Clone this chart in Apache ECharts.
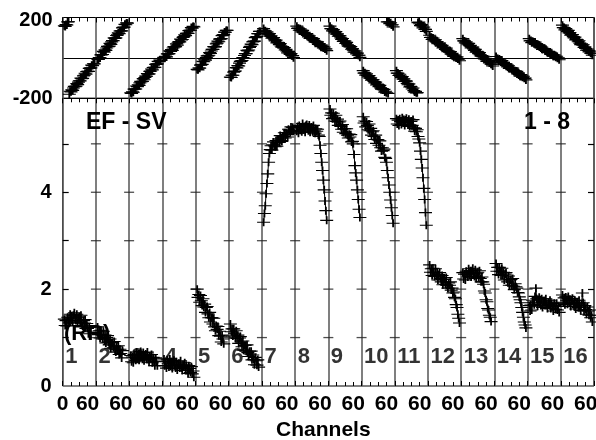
<!DOCTYPE html>
<html><head><meta charset="utf-8">
<script src="https://cdn.jsdelivr.net/npm/echarts@6/dist/echarts.min.js"></script>
<style>html,body{margin:0;padding:0;background:#fff}#c{width:596px;height:440px}</style>
</head><body><div id="c"></div>
<script>
// ---- data ----
const segWidth = 80;          // channel units per IF panel
const segLabels = ['1','2','3','4','5','6','7','8','9','10','11','12','13','14','15','16'];
const chans = [4,6,8,10,12,14,16,18,20,22,24,26,28,30,32,34,36,38,40,42,44,46,48,50,52,54,56,58,60,62,64,66,68,70,72,74,76];
const xTickLabelValues = [0,60,140,220,300,380,460,540,620,700,780,860,940,1020,1100,1180,1260];
const ampTicks = [1,2,3,4,5];
const ampLabels = [0,2,4];
const phaseLabels = [-200,200];

const ph1  = [159,156,165,163,178,179,-180,-165,-168,-158,-161,-149,-141,-142,-140,-127,-132,-120,-113,-114,-100,-103,-101,-89,-86,-76,-80,-68,-67,-67,-52,-50,-49,-36,-38,-29,-30];
const ph2  = [-5,-8,1,0,15,16,17,32,29,40,37,49,57,56,58,72,67,79,86,85,99,96,99,111,114,124,120,133,134,134,149,151,152,166,164,173,172];
const ph3  = [-173,-176,-168,-170,-155,-154,-154,-139,-142,-133,-136,-124,-116,-118,-116,-103,-108,-97,-90,-91,-78,-81,-79,-67,-65,-55,-59,-48,-47,-47,-32,-31,-30,-17,-19,-11,-12];
const ph4  = [3,-1,8,5,20,20,21,35,32,41,37,49,56,55,56,69,63,75,81,79,93,89,91,102,105,114,110,121,121,121,135,137,137,150,147,156,154];
const ph5  = [-57,-59,-50,-51,-36,-34,-32,-17,-19,-9,-11,2,10,10,13,26,22,34,42,42,56,54,56,69,73,83,80,93,94,95,110,113,115,128,127,136,136];
const ph6  = [-95,-97,-86,-86,-70,-67,-65,-48,-50,-38,-40,-26,-17,-16,-13,2,-2,12,21,21,37,35,39,52,57,68,66,79,82,83,100,103,106,120,120,131,131];
const ph7  = [145,133,134,123,129,121,114,120,108,109,98,101,100,90,84,88,74,77,76,66,71,59,53,56,50,51,39,42,34,25,32,25,17,21,11,11,1];
const ph8  = [157,146,147,137,144,136,129,136,125,127,116,120,120,111,104,109,96,100,99,90,96,85,79,82,77,79,67,71,64,56,63,57,49,54,44,45,36];
const ph9  = [157,145,145,134,140,132,124,130,118,119,107,110,109,99,92,96,82,85,83,72,77,65,58,61,55,56,43,46,38,29,35,28,20,24,13,13,3];
const ph10 = [-63,-75,-74,-85,-79,-87,-94,-88,-100,-99,-110,-107,-108,-117,-124,-120,-134,-130,-132,-142,-136,-148,-155,-152,-157,-156,-169,-165,-173,178,-176,178,170,174,163,164,154];
const ph11 = [-63,-75,-76,-87,-81,-90,-98,-93,-105,-104,-117,-114,-115,-126,-133,-129,-144,-141,-144,-154,-149,-162,-169,-166,-173,-172,175,177,169,160,165,158,149,153,142,141,131];
const ph12 = [112,101,102,91,98,91,84,90,79,81,70,73,73,64,58,62,49,53,52,42,48,37,31,34,29,31,19,22,15,7,14,7,0,5,-6,-5,-14];
const ph13 = [95,84,84,74,80,73,65,72,60,62,50,54,53,44,37,42,28,32,30,21,26,15,8,12,6,8,-5,-2,-9,-18,-11,-18,-25,-21,-31,-31,-40];
const ph14 = [7,-4,-3,-13,-6,-13,-20,-13,-24,-22,-33,-29,-29,-38,-44,-39,-52,-48,-49,-58,-51,-62,-68,-64,-69,-67,-79,-75,-82,-90,-83,-89,-96,-91,-101,-100,-109];
const ph15 = [95,84,86,76,83,77,70,78,67,69,59,63,63,55,49,54,42,46,46,37,43,33,27,31,27,29,17,22,15,8,15,9,3,8,-2,0,-9];
const ph16 = [162,150,150,139,145,138,130,136,124,125,113,116,115,105,99,103,89,92,90,80,85,73,66,70,64,65,52,55,47,38,44,37,30,34,23,23,13];

const amp1  = [1.38,1.25,1.35,1.24,1.42,1.36,1.30,1.48,1.35,1.45,1.32,1.46,1.51,1.40,1.35,1.48,1.30,1.41,1.43,1.32,1.46,1.30,1.24,1.35,1.30,1.37,1.19,1.29,1.19,1.08,1.21,null,null,null,null,null,null];
const amp2  = [1.22,1.06,1.14,0.99,1.15,1.06,0.97,1.13,0.97,1.05,0.89,1.00,1.04,0.91,0.85,0.97,0.78,0.89,0.90,0.79,0.92,0.76,0.70,0.81,0.76,0.83,0.65,0.76,0.67,0.58,0.73,null,null,null,null,null,null];
const amp3  = [0.63,0.50,0.60,0.48,0.65,0.59,0.53,0.70,0.57,0.66,0.53,0.66,0.71,0.60,0.55,0.69,0.52,0.63,0.66,0.55,0.70,0.55,0.49,0.62,0.57,0.65,0.48,0.59,0.51,0.42,0.58,0.51,0.42,null,null,null,null];
const amp4  = [0.56,0.42,0.50,0.37,0.54,0.46,0.39,0.56,0.41,0.50,0.36,0.49,0.53,0.42,0.37,0.50,0.33,0.45,0.47,0.37,0.52,0.37,0.32,0.44,0.40,0.48,0.32,0.43,0.35,0.26,0.42,0.36,0.28,0.40,0.25,0.31,0.18];
const amp5  = [2.00,1.83,1.89,1.73,1.87,1.76,1.66,1.80,1.63,1.69,1.52,1.62,1.64,1.49,1.41,1.52,1.32,1.41,1.41,1.28,1.40,1.22,1.14,1.24,1.17,1.23,1.04,1.13,1.03,0.91,1.05,0.97,0.87,null,null,null,null];
const amp6  = [1.28,1.12,1.18,1.03,1.18,1.09,0.99,1.14,0.98,1.05,0.88,0.99,1.02,0.89,0.81,0.93,0.74,0.84,0.84,0.72,0.85,0.69,0.61,0.72,0.66,0.72,0.54,0.64,0.55,0.44,0.59,0.52,0.43,0.54,0.39,null,null];
const amp7  = [3.38,3.56,3.72,3.97,4.18,4.38,4.62,4.80,4.88,4.96,4.87,4.98,5.04,4.96,4.94,5.07,4.95,5.06,5.10,5.03,5.17,5.07,5.05,5.16,5.15,5.23,5.12,5.23,5.19,5.14,5.30,5.27,5.23,5.35,5.27,5.34,5.26];
const amp8  = [5.26,5.36,5.22,5.38,5.28,5.33,5.25,5.42,5.29,5.36,5.24,5.38,5.40,5.30,5.27,5.39,5.24,5.34,5.35,5.26,5.38,5.27,5.22,5.31,5.26,5.30,5.18,5.15,4.97,4.80,4.62,4.45,4.25,4.05,3.82,3.62,3.42];
const amp9  = [5.72,5.59,5.64,5.52,5.63,5.55,5.47,5.59,5.46,5.51,5.38,5.45,5.47,5.36,5.30,5.40,5.24,5.31,5.31,5.21,5.31,5.18,5.12,5.20,5.14,5.19,5.04,5.05,5.00,4.78,4.55,4.40,4.25,4.05,3.85,3.65,3.48];
const amp10 = [5.56,5.43,5.47,5.35,5.46,5.38,5.29,5.41,5.27,5.32,5.18,5.25,5.27,5.15,5.09,5.18,5.01,5.09,5.08,4.97,5.06,4.92,4.85,4.92,4.86,4.89,4.72,4.70,4.62,4.45,4.30,4.15,4.00,3.84,3.68,3.52,3.36];
const amp11 = [5.52,5.41,5.49,5.38,5.52,5.46,5.40,5.54,5.43,5.50,5.38,5.49,5.53,5.44,5.39,5.51,5.36,5.46,5.47,5.38,5.50,5.33,5.26,5.32,5.25,5.29,5.15,5.10,5.02,4.85,4.68,4.50,4.30,4.08,3.85,3.58,3.32];
const amp12 = [2.50,2.35,2.42,2.28,2.43,2.35,2.26,2.42,2.27,2.34,2.19,2.30,2.34,2.22,2.15,2.28,2.09,2.20,2.21,2.10,2.24,2.08,2.02,2.13,2.08,2.15,1.98,2.02,1.92,1.94,1.83,1.80,1.68,1.62,1.48,1.40,1.30];
const amp13 = [2.34,2.21,2.31,2.19,2.37,2.31,2.25,2.42,2.29,2.38,2.25,2.38,2.43,2.32,2.26,2.40,2.22,2.33,2.35,2.24,2.38,2.22,2.15,2.25,2.15,2.10,1.96,1.92,1.78,1.74,1.60,1.57,1.46,1.42,1.33,null,null];
const amp14 = [2.53,2.37,2.45,2.30,2.45,2.37,2.28,2.43,2.28,2.35,2.19,2.31,2.34,2.21,2.15,2.27,2.08,2.19,2.20,2.08,2.22,2.06,1.99,2.11,2.05,2.02,1.93,1.92,1.84,1.78,1.72,1.62,1.52,1.42,1.32,1.26,1.20];
const amp15 = [1.66,1.55,1.67,1.57,1.77,1.73,1.68,1.85,2.02,1.80,1.65,1.78,1.83,1.71,1.66,1.80,1.62,1.74,1.76,1.66,1.80,1.66,1.60,1.73,1.68,1.77,1.60,1.71,1.64,1.55,1.71,1.66,1.58,1.71,1.57,1.64,1.52];
const amp16 = [1.88,1.73,1.82,1.68,1.84,1.77,1.69,1.85,1.71,1.79,1.64,1.77,1.81,1.69,1.64,1.77,1.59,1.71,1.73,1.62,1.77,1.62,1.56,1.69,1.92,1.72,1.55,1.66,1.58,1.48,1.63,1.55,1.46,1.57,1.41,1.46,1.32];

// ---- build ----
const phSegs = [ph1,ph2,ph3,ph4,ph5,ph6,ph7,ph8,ph9,ph10,ph11,ph12,ph13,ph14,ph15,ph16];
const ampSegs = [amp1,amp2,amp3,amp4,amp5,amp6,amp7,amp8,amp9,amp10,amp11,amp12,amp13,amp14,amp15,amp16];
const nSeg = segLabels.length;
const xMax = nSeg * segWidth;

function build(segs, wrap) {
  const out = [];
  segs.forEach((vals, k) => {
    let prev = null;
    vals.forEach((v, i) => {
      const x = k * segWidth + chans[i];
      if (v === null) { out.push([x, '-']); prev = null; return; }
      if (wrap && prev !== null && Math.abs(v - prev) > 180) out.push([x, '-']);
      out.push([x, v]);
      prev = v;
    });
    out.push([(k + 1) * segWidth, '-']);
  });
  return out;
}
const dashData = [];
for (let k = 1; k < nSeg; k++) ampTicks.forEach(t => dashData.push([k * segWidth, t]));
const numData = segLabels.map((s, k) => ({ value: [k * segWidth + 6, 0.6], name: s }));

const FONT = "'Liberation Sans', Arial, sans-serif";
const plus = 'path://M0,4L12,4M6,0L6,8';
const GL = 62.7, GW = 531.3;
const tickLine = { color: '#000', width: 1 };

function xAx(gridIndex, position, extra) {
  return Object.assign({
    type: 'value', gridIndex, position, min: 0, max: xMax, interval: segWidth,
    axisLine: { show: false, onZero: false },
    axisTick: { show: true, inside: true, length: 5, lineStyle: tickLine },
    minorTick: { show: true, splitNumber: 4, length: 4, lineStyle: tickLine },
    axisLabel: { show: false },
    splitLine: { show: false }
  }, extra);
}
function yLine() { return { show: false, onZero: false }; }

const chart = echarts.init(document.getElementById('c'), null, { renderer: 'canvas' });
chart.setOption({
  animation: false,
  backgroundColor: '#fff',
  grid: [
    { left: GL, top: 17.5, width: GW, height: 80.8, show: true, borderColor: '#000', borderWidth: 1, containLabel: false, outerBoundsMode: 'none' },
    { left: GL, top: 98.3, width: GW, height: 287.7, show: true, borderColor: '#000', borderWidth: 1, containLabel: false, outerBoundsMode: 'none' }
  ],
  xAxis: [
    xAx(0, 'top', { splitLine: { show: true, lineStyle: { color: '#555', width: 1.5 } } }),
    xAx(1, 'bottom', {
      name: 'Channels', nameLocation: 'middle', nameGap: 34,
      nameTextStyle: { fontFamily: FONT, fontWeight: 'bold', fontSize: 21, color: '#000', padding: [0, 10, 0, 0] },
      axisLabel: { show: true, customValues: xTickLabelValues, formatter: v => String(v % segWidth),
        fontFamily: FONT, fontWeight: 'bold', fontSize: 21, color: '#000', margin: 8 },
      splitLine: { show: true, lineStyle: { color: '#555', width: 1.5 } } }),
    xAx(1, 'top', {})
  ],
  yAxis: [
    { type: 'value', gridIndex: 0, min: -200, max: 200, interval: 200,
      axisLine: yLine(), axisTick: { show: false },
      axisLabel: { customValues: phaseLabels, fontFamily: FONT, fontWeight: 'bold', fontSize: 20, color: '#000', margin: 10,
        formatter: v => v > 0 ? '{t|' + v + '}' : String(v),
        rich: { t: { fontFamily: FONT, fontWeight: 'bold', fontSize: 20, color: '#000', padding: [5, 0, 0, 0] } } },
      splitLine: { show: true, lineStyle: { color: '#000', width: 1 } } },
    { type: 'value', gridIndex: 1, min: 0, max: 5.94, interval: 1,
      axisLine: yLine(),
      axisTick: { show: true, inside: true, length: 6, customValues: ampTicks, lineStyle: { color: '#000', width: 1.2 } },
      axisLabel: { customValues: ampLabels, fontFamily: FONT, fontWeight: 'bold', fontSize: 20, color: '#000', margin: 11 },
      splitLine: { show: false } },
    { type: 'value', gridIndex: 1, position: 'right', min: 0, max: 5.94, interval: 1,
      axisLine: yLine(),
      axisTick: { show: true, inside: true, length: 6, customValues: ampTicks, lineStyle: { color: '#000', width: 1.2 } },
      axisLabel: { show: false }, splitLine: { show: false } }
  ],
  series: [
    { type: 'scatter', xAxisIndex: 1, yAxisIndex: 1, data: dashData, symbol: 'rect', symbolSize: [10, 1.3],
      itemStyle: { color: '#222' }, silent: true, z: 1 },
    { type: 'line', xAxisIndex: 0, yAxisIndex: 0, data: build(phSegs, true), connectNulls: false,
      symbol: plus, symbolSize: [13, 8], showAllSymbol: true,
      lineStyle: { color: '#000', width: 1 },
      itemStyle: { color: '#000', borderColor: '#000', borderWidth: 1.5 }, z: 3 },
    { type: 'line', xAxisIndex: 1, yAxisIndex: 1, data: build(ampSegs, false), connectNulls: false,
      symbol: plus, symbolSize: [13, 8], showAllSymbol: true,
      lineStyle: { color: '#000', width: 1 },
      itemStyle: { color: '#000', borderColor: '#000', borderWidth: 1.4 }, z: 3 },
    { type: 'scatter', xAxisIndex: 1, yAxisIndex: 1, data: numData, symbolSize: 0, silent: true, z: 4,
      label: { show: true, position: 'right', distance: 0, formatter: p => p.name,
        fontFamily: FONT, fontWeight: 'bold', fontSize: 22, color: '#000' } }
  ],
  graphic: [
    { type: 'text', left: 86, top: 111, z: 5, style: { text: 'EF - SV', font: "bold 23px " + FONT, fill: '#000' } },
    { type: 'text', right: 26, top: 111, z: 5, style: { text: '1 - 8', font: "bold 23px " + FONT, fill: '#000' } },
    { type: 'text', left: 64, top: 323, z: 10, style: { text: '(RR)', font: "bold 22px " + FONT, fill: '#000' } }
  ]
});
</script></body></html>
